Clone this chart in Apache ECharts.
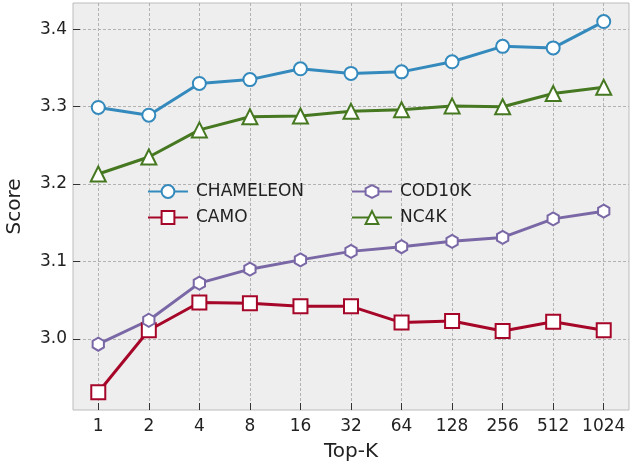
<!DOCTYPE html>
<html>
<head>
<meta charset="utf-8">
<script src="https://cdn.jsdelivr.net/npm/echarts@6/dist/echarts.min.js"></script>
<style>
  html, body { margin: 0; padding: 0; background: #fff; }
  #chart { width: 630px; height: 463px; }
</style>
</head>
<body>
<div id="chart"></div>
<script>
// x categories (Top-K)
const topK = ['1', '2', '4', '8', '16', '32', '64', '128', '256', '512', '1024'];
// y ticks
const yTicks = [3.0, 3.1, 3.2, 3.3, 3.4];

// scores per dataset
const chameleon = [3.299, 3.289, 3.330, 3.335, 3.349, 3.343, 3.345, 3.358, 3.378, 3.376, 3.410];
const camo      = [2.931, 3.011, 3.047, 3.046, 3.042, 3.042, 3.021, 3.023, 3.010, 3.022, 3.011];
const cod10k    = [2.993, 3.024, 3.072, 3.090, 3.102, 3.113, 3.119, 3.126, 3.131, 3.155, 3.165];
const nc4k      = [3.213, 3.235, 3.270, 3.287, 3.288, 3.294, 3.296, 3.301, 3.300, 3.317, 3.325];

const FONT = 'DejaVu Sans';
const hexagon = 'emptypath://M0,-1 L0.866,-0.5 L0.866,0.5 L0,1 L-0.866,0.5 L-0.866,-0.5 Z';

function mkSeries(name, vals, color, symbol, size) {
  return {
    name: name,
    type: 'line',
    data: vals.map((v, i) => [i, v]),
    symbol: symbol,
    symbolSize: size,
    symbolKeepAspect: true,
    showAllSymbol: true,
    lineStyle: { color: color, width: 3 },
    itemStyle: { color: color, borderColor: color, borderWidth: 3 },
    emphasis: { disabled: true },
    z: 3
  };
}

let chart = echarts.init(document.getElementById('chart'));
chart.setOption({
  backgroundColor: '#fff',
  animation: false,
  textStyle: { fontFamily: FONT },
  grid: {
    show: true, left: 73, right: 1, top: 3, bottom: 53,
    containLabel: false, outerBoundsMode: 'none',
    backgroundColor: '#eeeeee', borderColor: '#bcbcbc', borderWidth: 1
  },
  xAxis: {
    type: 'value', min: -0.5, max: 10.5,
    name: 'Top-K', nameLocation: 'middle', nameGap: 32,
    nameTextStyle: { fontSize: 20, color: '#222', fontFamily: FONT },
    axisLine: { show: false, onZero: false },
    axisTick: { show: true, inside: true, length: 7, lineStyle: { color: '#333', width: 1 },
      customValues: topK.map((c, i) => i) },
    axisLabel: { fontSize: 17, color: '#222', margin: 8, fontFamily: FONT,
      customValues: topK.map((c, i) => i),
      formatter: v => topK[Math.round(v)] },
    splitLine: { show: true, lineStyle: { color: '#b2b2b2', type: [3, 2], width: 1 } }
  },
  yAxis: {
    type: 'value', min: 2.908, max: 3.434,
    name: 'Score', nameLocation: 'middle', nameGap: 48,
    nameTextStyle: { fontSize: 20, color: '#222', fontFamily: FONT },
    axisLine: { show: false, onZero: false },
    axisTick: { show: true, inside: true, length: 7, lineStyle: { color: '#333', width: 1 },
      customValues: yTicks },
    axisLabel: { fontSize: 17, color: '#222', margin: 6, fontFamily: FONT,
      customValues: yTicks,
      formatter: v => v.toFixed(1) },
    splitLine: { show: true, lineStyle: { color: '#b2b2b2', type: [3, 2], width: 1 } }
  },
  legend: [
    {
      data: ['CHAMELEON', 'CAMO'], orient: 'vertical', left: 142, top: 178,
      itemWidth: 40, itemHeight: 16, itemGap: 9,
      textStyle: { fontSize: 17, color: '#222', fontFamily: FONT, padding: [0, 0, 0, 3] }
    },
    {
      data: ['COD10K', 'NC4K'], orient: 'vertical', left: 346, top: 178,
      itemWidth: 40, itemHeight: 16, itemGap: 9,
      textStyle: { fontSize: 17, color: '#222', fontFamily: FONT, padding: [0, 0, 0, 3] }
    }
  ],
  series: [
    mkSeries('CHAMELEON', chameleon, '#348ABD', 'emptyCircle', 13),
    mkSeries('CAMO', camo, '#A60628', 'emptyRect', 14),
    mkSeries('COD10K', cod10k, '#7A68A6', hexagon, 13),
    mkSeries('NC4K', nc4k, '#467821', 'emptyTriangle', 15)
  ]
});
</script>
</body>
</html>
